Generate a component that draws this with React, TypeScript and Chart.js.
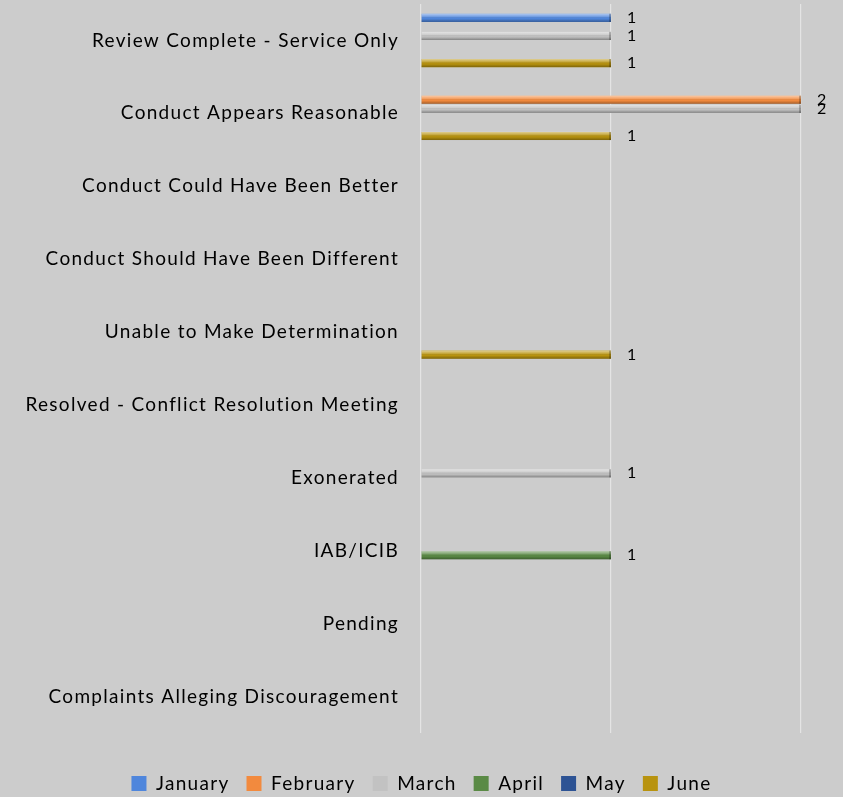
import React, { useEffect, useRef } from "react";
import { Chart, registerables } from "chart.js";

Chart.register(...registerables);

const categories = [
  "Review Complete - Service Only",
  "Conduct Appears Reasonable",
  "Conduct Could Have Been Better",
  "Conduct Should Have Been Different",
  "Unable to Make Determination",
  "Resolved - Conflict Resolution Meeting",
  "Exonerated",
  "IAB/ICIB",
  "Pending",
  "Complaints Alleging Discouragement",
];

const seriesNames = ["January", "February", "March", "April", "May", "June"];

const january = [1, null, null, null, null, null, null, null, null, null];
const february = [null, 2, null, null, null, null, null, null, null, null];
const march = [1, 2, null, null, null, null, 1, null, null, null];
const april = [null, null, null, null, null, null, null, 1, null, null];
const may = [null, null, null, null, null, null, null, null, null, null];
const june = [1, 1, null, null, 1, null, null, null, null, null];

const xMin = 0;
const xMax = 2;
const xStep = 1;

const seriesColors = ["#4f86dc", "#f28a3e", "#c2c2c2", "#5a8a45", "#2d5394", "#b8930f"];

const FONT = "Lato, 'Noto Sans', sans-serif";
const SPACING = "1.3px";

const bgPlugin = {
  id: "bgFill",
  beforeUpdate(chart: any) {
    chart.ctx.letterSpacing = SPACING;
  },
  beforeDraw(chart: any) {
    const ctx = chart.ctx;
    ctx.save();
    ctx.fillStyle = "#cccccc";
    ctx.fillRect(0, 0, chart.width, chart.height);
    ctx.restore();
    ctx.letterSpacing = SPACING;
  },
};

const barDecorPlugin = {
  id: "barDecor",
  afterDatasetsDraw(chart: any) {
    const ctx = chart.ctx;
    ctx.save();
    chart.data.datasets.forEach((ds: any, i: number) => {
      const meta = chart.getDatasetMeta(i);
      if (meta.hidden) return;
      meta.data.forEach((el: any, j: number) => {
        const v = ds.data[j];
        if (v == null) return;
        const { x, y, base, height } = el.getProps(["x", "y", "base", "height"], true);
        const top = y - height / 2;
        const left = Math.min(base, x);
        const w = Math.abs(x - base);
        const g = ctx.createLinearGradient(0, top, 0, top + height);
        g.addColorStop(0, "rgba(255,255,255,0.55)");
        g.addColorStop(0.35, "rgba(255,255,255,0.2)");
        g.addColorStop(0.6, "rgba(0,0,0,0)");
        g.addColorStop(1, "rgba(0,0,0,0.32)");
        ctx.fillStyle = g;
        ctx.fillRect(left, top, w, height);
        ctx.fillStyle = "rgba(0,0,0,0.22)";
        ctx.fillRect(x - 2, top, 2, height);
        ctx.fillStyle = "#000000";
        ctx.font = "16px " + FONT;
        ctx.textAlign = "left";
        ctx.textBaseline = "middle";
        ctx.fillText(String(v), x + 16, y);
      });
    });
    ctx.restore();
  },
};

export default function App() {
  const ref = useRef<HTMLCanvasElement | null>(null);

  useEffect(() => {
    if (!ref.current) return;
    const seriesData = [january, february, march, april, may, june];
    const chart = new Chart(ref.current, {
      type: "bar",
      data: {
        labels: categories,
        datasets: seriesNames.map((name, i) => ({
          label: name,
          data: seriesData[i],
          backgroundColor: seriesColors[i],
          borderWidth: 0,
          categoryPercentage: 0.745,
          barPercentage: 0.9,
        })),
      },
      options: {
        indexAxis: "y",
        animation: false,
        responsive: false,
        devicePixelRatio: 1,
        layout: { padding: { top: 4, left: 0, right: 0, bottom: 0 } },
        scales: {
          x: {
            min: xMin,
            max: xMax,
            ticks: { display: false, stepSize: xStep },
            grid: { color: "#e4e4e4", lineWidth: 1.2, drawTicks: false },
            border: { display: false },
            afterFit: (s: any) => {
              s.height = 24;
              s.paddingLeft = 0;
              s.paddingRight = 0;
            },
          },
          y: {
            grid: { display: false, drawTicks: false },
            border: { display: false },
            ticks: {
              color: "#000000",
              padding: 22,
              font: { family: FONT, size: 19 },
            },
            afterFit: (s: any) => {
              s.width = 421;
              s.paddingTop = 0;
              s.paddingBottom = 0;
            },
          },
          yRight: {
            type: "category",
            position: "right",
            display: true,
            grid: { display: false, drawTicks: false },
            border: { display: false },
            ticks: { display: false },
            afterFit: (s: any) => {
              s.width = 42;
              s.paddingTop = 0;
              s.paddingBottom = 0;
            },
          },
        },
        plugins: {
          legend: {
            position: "bottom",
            maxHeight: 40,
            labels: {
              color: "#000000",
              boxWidth: 15,
              boxHeight: 15,
              padding: 17,
              font: { family: FONT, size: 19 },
            },
          },
          tooltip: { enabled: false },
        },
      },
      plugins: [bgPlugin, barDecorPlugin],
    });
    return () => chart.destroy();
  }, []);

  return (
    <div style={{ position: "fixed", left: 0, top: 0, width: 843, height: 797, background: "#cccccc" }}>
      <canvas ref={ref} width={843} height={797} style={{ display: "block" }} />
    </div>
  );
}
